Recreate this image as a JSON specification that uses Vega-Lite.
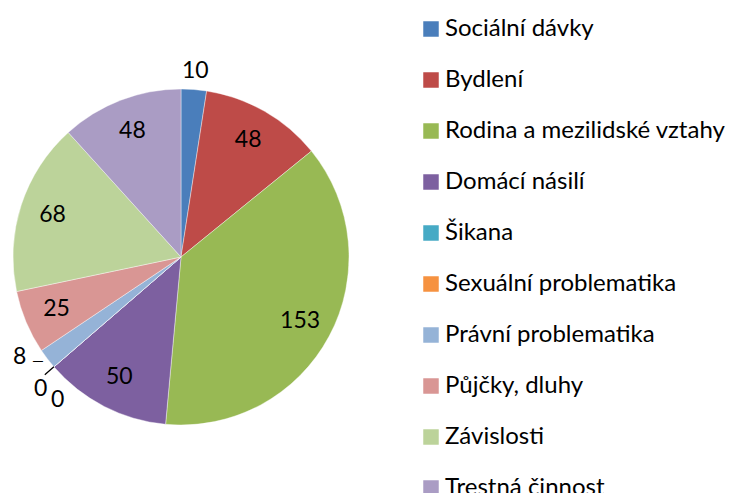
{
  "$schema": "https://vega.github.io/schema/vega-lite/v6.json",
  "width": 362,
  "height": 514,
  "autosize": {"type": "none"},
  "padding": {"left": 0, "top": 0, "right": 377, "bottom": 0},
  "background": "white",
  "config": {"view": {"stroke": null}, "font": "Lato"},
  "data": {"values": [
    {"k": "Sociální dávky", "v": 10, "i": 1},
    {"k": "Bydlení", "v": 48, "i": 2},
    {"k": "Rodina a mezilidské vztahy", "v": 153, "i": 3},
    {"k": "Domácí násilí", "v": 50, "i": 4},
    {"k": "Šikana", "v": 0, "i": 5},
    {"k": "Sexuální problematika", "v": 0, "i": 6},
    {"k": "Právní problematika", "v": 8, "i": 7},
    {"k": "Půjčky, dluhy", "v": 25, "i": 8},
    {"k": "Závislosti", "v": 68, "i": 9},
    {"k": "Trestná činnost", "v": 48, "i": 10}
  ]},
  "encoding": {
    "theta": {"field": "v", "type": "quantitative", "stack": true},
    "order": {"field": "i", "type": "quantitative"}
  },
  "layer": [
    {
      "mark": {"type": "arc", "outerRadius": 168, "stroke": "white", "strokeWidth": 0.4},
      "encoding": {
        "color": {
          "field": "k", "type": "nominal",
          "scale": {
            "domain": ["Sociální dávky", "Bydlení", "Rodina a mezilidské vztahy", "Domácí násilí", "Šikana", "Sexuální problematika", "Právní problematika", "Půjčky, dluhy", "Závislosti", "Trestná činnost"],
            "range": ["#4A7EBB", "#BE4B48", "#98B954", "#7D60A0", "#46AAC5", "#F69240", "#95B3D7", "#D99694", "#BCD39A", "#AA9CC4"]
          },
          "legend": {
            "title": null, "orient": "none", "legendX": 419, "legendY": 17,
            "direction": "vertical", "columns": 1,
            "symbolType": "square", "symbolSize": 240, "symbolStrokeWidth": 0,
            "labelFont": "Lato", "labelFontSize": 24, "labelColor": "black",
            "labelOffset": 2, "rowPadding": 27, "padding": 0, "labelLimit": 400
          }
        }
      }
    },
    {
      "mark": {"type": "arc", "radius": 180, "radius2": 168, "fill": null, "stroke": "black", "strokeWidth": 1.3},
      "encoding": {
        "strokeOpacity": {"condition": {"test": "datum.k === 'Šikana'", "value": 1}, "value": 0}
      }
    },
    {
      "mark": {"type": "text", "radius": 135, "fontSize": 23, "font": "Lato", "color": "black"},
      "encoding": {
        "text": {"condition": {"test": "datum.v >= 25", "field": "v", "type": "quantitative"}, "value": ""}
      }
    },
    {
      "mark": {"type": "text", "radius": 187, "fontSize": 23, "font": "Lato", "color": "black"},
      "encoding": {
        "text": {"condition": {"test": "datum.k === 'Sociální dávky'", "field": "v", "type": "quantitative"}, "value": ""}
      }
    },
    {
      "mark": {"type": "text", "radius": 189, "dx": -11, "dy": -15, "fontSize": 23, "font": "Lato", "color": "black"},
      "encoding": {
        "text": {"condition": {"test": "datum.k === 'Právní problematika'", "field": "v", "type": "quantitative"}, "value": ""}
      }
    },
    {
      "mark": {"type": "text", "radius": 180, "dx": 0, "dy": -5, "fontSize": 15, "font": "Lato", "color": "black"},
      "encoding": {
        "text": {"condition": {"test": "datum.k === 'Právní problematika'", "value": "—"}, "value": ""}
      }
    },
    {
      "mark": {"type": "text", "radius": 192, "dx": 5, "dy": 6, "fontSize": 23, "font": "Lato", "color": "black"},
      "encoding": {
        "text": {"condition": {"test": "datum.k === 'Šikana'", "field": "v", "type": "quantitative"}, "value": ""}
      }
    },
    {
      "mark": {"type": "text", "radius": 188, "dx": 19, "dy": 20, "fontSize": 23, "font": "Lato", "color": "black"},
      "encoding": {
        "text": {"condition": {"test": "datum.k === 'Sexuální problematika'", "field": "v", "type": "quantitative"}, "value": ""}
      }
    }
  ]
}
